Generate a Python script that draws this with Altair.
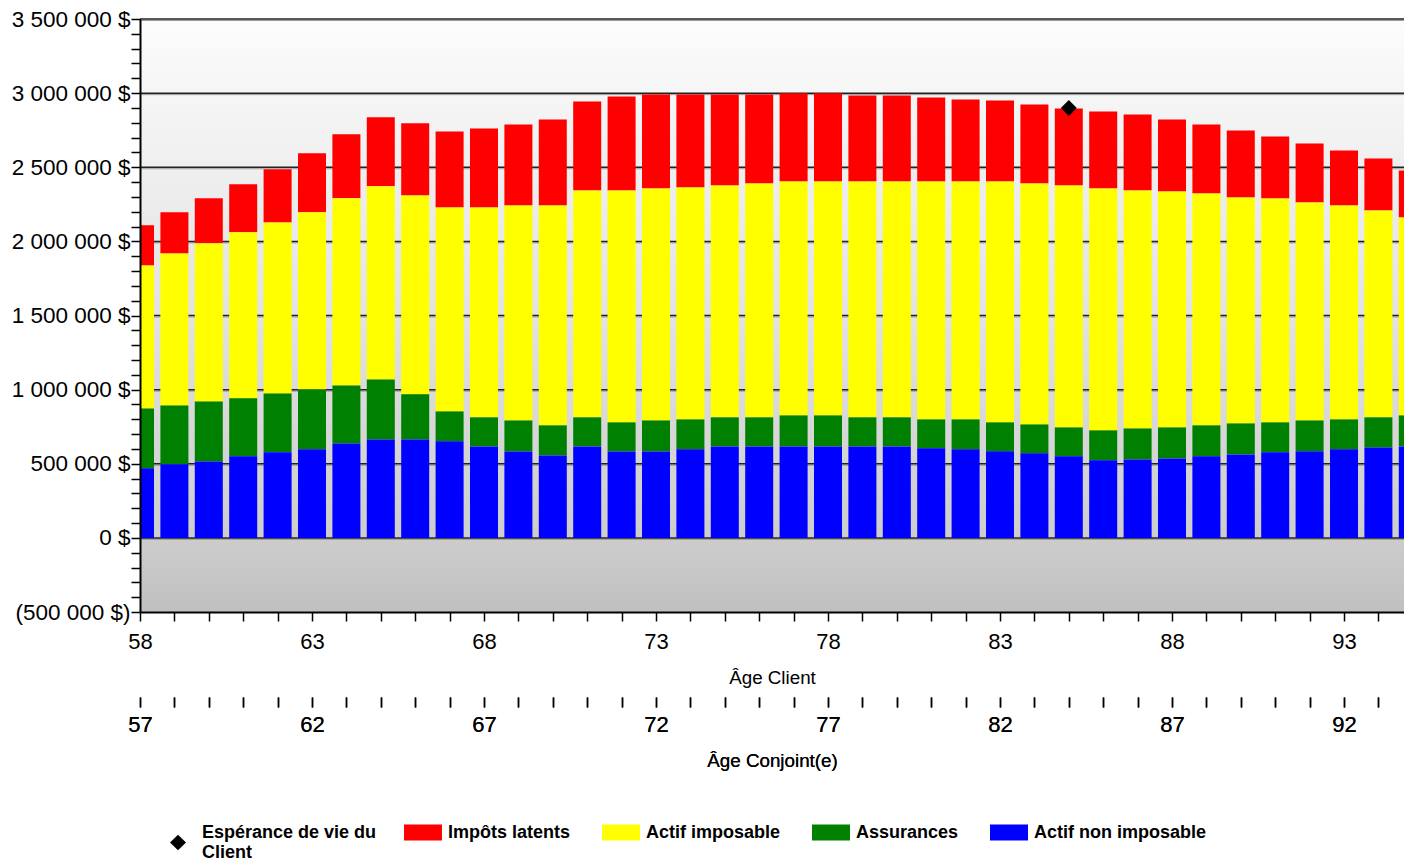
import altair as alt
import pandas as pd

# ---------------- data ----------------
ages = list(range(58, 96))

actif_non_imposable = [469000, 496000, 516000, 550000, 577000, 597000, 637000, 664000, 664000, 651000,
                       617000, 583000, 556000, 617000, 583000, 583000, 597000, 617000, 617000, 617000,
                       617000, 617000, 617000, 604000, 597000, 584000, 570000, 550000, 523000, 529000,
                       536000, 550000, 563000, 577000, 585000, 597000, 610000, 617000]
assurances = [404000, 397000, 404000, 391000, 397000, 404000, 391000, 405000, 304000, 202000,
              196000, 209000, 203000, 196000, 196000, 209000, 202000, 196000, 196000, 209000,
              209000, 196000, 196000, 195000, 202000, 195000, 195000, 195000, 202000, 209000,
              209000, 209000, 209000, 202000, 207000, 202000, 203000, 209000]
actif_imposable = [965000, 1026000, 1067000, 1120000, 1154000, 1195000, 1263000, 1303000, 1342000, 1376000,
                   1416000, 1450000, 1483000, 1530000, 1564000, 1565000, 1565000, 1564000, 1577000, 1578000,
                   1578000, 1591000, 1591000, 1605000, 1605000, 1625000, 1625000, 1632000, 1632000, 1605000,
                   1591000, 1564000, 1524000, 1510000, 1470000, 1443000, 1395000, 1335000]
impots_latents = [270000, 277000, 304000, 324000, 359000, 399000, 432000, 466000, 486000, 512000,
                  532000, 546000, 580000, 600000, 634000, 633000, 626000, 613000, 600000, 595000,
                  595000, 580000, 580000, 566000, 553000, 546000, 533000, 519000, 519000, 513000,
                  486000, 465000, 452000, 418000, 398000, 371000, 351000, 317000]

series_names = ["Impôts latents", "Actif imposable", "Assurances", "Actif non imposable"]
series_colors = ["#ff0000", "#ffff00", "#008000", "#0000ff"]
stack_order = {"Actif non imposable": 0, "Assurances": 1, "Actif imposable": 2, "Impôts latents": 3}

esperance_age = [85]
esperance_valeur = [2900000]
esperance_label = ["Espérance de vie du Client"]

x_ticks = list(range(58, 95))
y_ticks = list(range(-500000, 3500001, 100000))
grid_values = list(range(0, 3500001, 500000))

# ---------------- tables ----------------
series_values = {
    "Impôts latents": impots_latents,
    "Actif imposable": actif_imposable,
    "Assurances": assurances,
    "Actif non imposable": actif_non_imposable,
}
rows = []
for name, vals in series_values.items():
    for a, v in zip(ages, vals):
        rows.append({"age": a, "serie": name, "valeur": v, "ordre": stack_order[name]})
df = pd.DataFrame(rows)
df_esp = pd.DataFrame({"age": esperance_age, "valeur": esperance_valeur, "label": esperance_label})
df_grid = pd.DataFrame({"g": grid_values})
df_bg = pd.DataFrame({"a": [0]})

W, H = 1264, 593
X_MAX = 58 + W / 34.4
FONT = "Liberation Sans"

x_scale = alt.Scale(domain=[58, X_MAX], nice=False, zero=False, padding=0)
y_scale = alt.Scale(domain=[-500000, 3500000], nice=False, zero=False, padding=0)

y_label_expr = (
    "(datum.value % 500000 != 0) ? '' : (datum.value < 0 ? "
    "'(' + replace(format(-datum.value, ','), regexp(',', 'g'), ' ') + ' $)' : "
    "replace(format(datum.value, ','), regexp(',', 'g'), ' ') + ' $')"
)
y_axis = alt.Axis(values=y_ticks, labelExpr=y_label_expr, title=None, grid=False,
                  domain=True, domainColor="black", domainWidth=2,
                  ticks=True, tickColor="black", tickWidth=1.5, tickSize=9,
                  labelFont=FONT, labelFontSize=22.5, labelColor="black", labelPadding=1,
                  labelOverlap=False, labelBound=False, zindex=2)

x_axis_client = alt.Axis(values=x_ticks, orient="bottom",
                         labelExpr="(datum.value - 58) % 5 == 0 ? datum.label : ''",
                         title="Âge Client", grid=False,
                         domain=True, domainColor="black", domainWidth=2,
                         tickColor="black", tickWidth=1.5, tickSize=9,
                         labelFont=FONT, labelFontSize=22, labelColor="black", labelPadding=10,
                         labelOverlap=False, labelFlush=False,
                         titleFont=FONT, titleFontSize=18.8, titleFontWeight="normal",
                         titleColor="black", titlePadding=16, zindex=2)

x_axis_conjoint = alt.Axis(values=x_ticks, orient="bottom", offset=85,
                           labelExpr="(datum.value - 58) % 5 == 0 ? '' + (datum.value - 1) : ''",
                           title="Âge Conjoint(e)", grid=False, domain=False,
                           tickColor="black", tickWidth=1.5, tickSize=10,
                           labelFont=FONT, labelFontSize=22, labelColor="black", labelPadding=7,
                           labelOverlap=False, labelFlush=False,
                           titleFont=FONT, titleFontSize=18.8, titleFontWeight="normal",
                           titleColor="black", titlePadding=16, zindex=2)

gradient = alt.LinearGradient(
    gradient="linear", x1=0, y1=0, x2=0, y2=1,
    stops=[alt.GradientStop(offset=0, color="#fcfcfc"),
           alt.GradientStop(offset=0.5, color="#e2e2e2"),
           alt.GradientStop(offset=0.87, color="#cdcdcd"),
           alt.GradientStop(offset=1, color="#c0c0c0")],
)

bg = alt.Chart(df_bg).mark_rect(fill=gradient, stroke=None).encode(
    x=alt.value(0), x2=alt.value(W), y=alt.value(0), y2=alt.value(H)
)

grid_shadow = alt.Chart(df_grid).mark_rule(color="#9a9a9a", strokeWidth=1, yOffset=1.5).encode(
    y=alt.Y("g:Q", scale=y_scale, axis=y_axis)
)
grid = alt.Chart(df_grid).mark_rule(color="#222222", strokeWidth=1.5).encode(
    y=alt.Y("g:Q", scale=y_scale, axis=y_axis)
)

bars = alt.Chart(df).mark_bar(size=28, clip=True).encode(
    x=alt.X("age:Q", scale=x_scale, axis=x_axis_client),
    y=alt.Y("valeur:Q", stack="zero", scale=y_scale, axis=y_axis),
    color=alt.Color("serie:N",
                    scale=alt.Scale(domain=series_names, range=series_colors),
                    legend=alt.Legend(orient="none", legendX=264, legendY=794.5, direction="horizontal",
                                      title=None, padding=0,
                                      symbolType="M-1,-0.421H1V0.421H-1Z", symbolSize=1444,
                                      symbolStrokeWidth=0, symbolOpacity=1,
                                      labelFont=FONT, labelFontSize=18, labelFontWeight="bold",
                                      labelColor="black", labelOffset=6, columnPadding=31,
                                      labelLimit=400)),
    order=alt.Order("ordre:Q", sort="ascending"),
)

# the visible diamond on the plot
point = alt.Chart(df_esp).mark_point(filled=True, color="black", size=256, opacity=1,
                                     shape="diamond").encode(
    x=alt.X("age:Q", scale=x_scale, axis=x_axis_conjoint),
    y=alt.Y("valeur:Q", scale=y_scale, axis=y_axis),
)

# invisible twin that only carries the legend entry (diamond drawn between the two label lines)
diamond_path = "M0,0.17L0.8,0.95L0,1.73L-0.8,0.95Z"
point_legend = alt.Chart(df_esp).mark_point(filled=True, color="black", size=400, opacity=0).encode(
    x=alt.X("age:Q", scale=x_scale, axis=x_axis_conjoint),
    y=alt.Y("valeur:Q", scale=y_scale, axis=y_axis),
    shape=alt.Shape("label:N", scale=alt.Scale(range=[diamond_path]),
                    legend=alt.Legend(orient="none", legendX=28, legendY=804, title=None, padding=0,
                                      symbolSize=400,
                                      symbolFillColor="black", symbolStrokeWidth=0,
                                      symbolOpacity=1,
                                      labelFont=FONT, labelFontSize=18, labelFontWeight="bold",
                                      labelColor="black", labelOffset=14, labelLimit=400,
                                      labelExpr="['Espérance de vie du', 'Client']")),
)

chart = alt.layer(bg, grid_shadow, grid, bars, point, point_legend).resolve_axis(
    x="independent"
).properties(
    width=W, height=H,
    autosize=alt.AutoSizeParams(type="none"),
    padding={"left": 132, "top": 11, "right": 0, "bottom": 254},
).configure_view(stroke=None).configure(font=FONT)

chart.save("out.html", embed_options={"renderer": "svg", "actions": False})
